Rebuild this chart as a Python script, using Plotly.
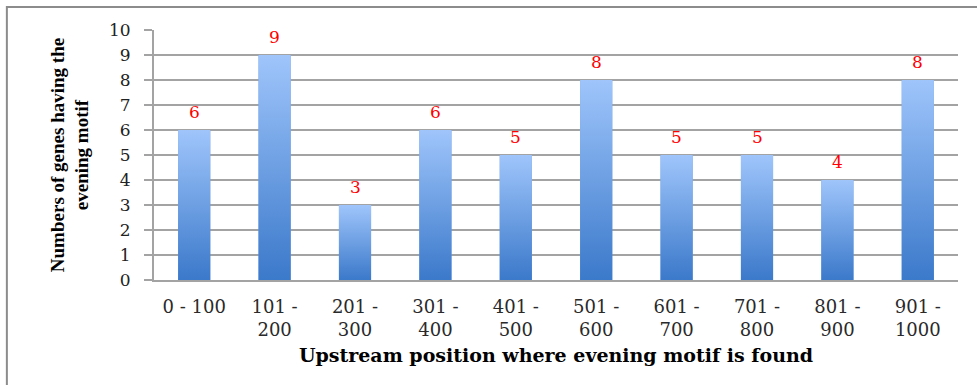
import plotly.graph_objects as go

categories = ["0 - 100", "101 -<br>200", "201 -<br>300", "301 -<br>400", "401 -<br>500",
              "501 -<br>600", "601 -<br>700", "701 -<br>800", "801 -<br>900", "901 -<br>1000"]
counts = [6, 9, 3, 6, 5, 8, 5, 5, 4, 8]
y_ticks = list(range(0, 11))

x_title = "Upstream position where evening motif is found"
y_title = "Numbers of genes having the<br>evening motif"

BAR_W = 0.4
TOP_COLOR = "#9fc5fb"
BOTTOM_COLOR = "#3b79ca"
GRID = "#a3a3a3"

positions = list(range(len(categories)))

fig = go.Figure()

# base bars
fig.add_trace(go.Bar(
    x=positions, y=counts, width=BAR_W,
    marker=dict(color="#6c9fe3", line=dict(width=0)),
    hoverinfo="y", showlegend=False,
))

# gradient overlay for each bar (same geometry as the bar)
for p, v in zip(positions, counts):
    x0, x1 = p - BAR_W / 2, p + BAR_W / 2
    fig.add_trace(go.Scatter(
        x=[x0, x0, x1, x1, x0], y=[0, v, v, 0, 0],
        mode="lines", line=dict(width=0), fill="toself",
        fillgradient=dict(type="vertical",
                          colorscale=[[0, BOTTOM_COLOR], [1, TOP_COLOR]],
                          start=0, stop=v),
        hoverinfo="skip", showlegend=False,
    ))

# value labels
for p, v in zip(positions, counts):
    fig.add_annotation(x=p, y=v, text=str(v), showarrow=False,
                       yanchor="bottom", yshift=6,
                       font=dict(family="DejaVu Serif", size=17, color="#ff0000"))

# outer frame
fig.add_shape(type="rect", xref="paper", yref="paper",
              x0=-0.183, x1=1.1, y0=-0.6, y1=1.092,
              line=dict(color="#8c8c8c", width=2), fillcolor="rgba(0,0,0,0)", layer="below")

fig.update_layout(
    width=977, height=385,
    margin=dict(l=154, r=19, t=30, b=105),
    paper_bgcolor="white", plot_bgcolor="white",
    bargap=0.6,
    xaxis=dict(
        range=[-0.5, len(categories) - 0.5],
        tickmode="array", tickvals=positions, ticktext=categories,
        showgrid=False, zeroline=False,
        showline=True, linecolor=GRID, linewidth=2,
        ticks="outside", ticklen=9, tickcolor="rgba(0,0,0,0)",
        tickfont=dict(family="DejaVu Serif", size=18, color="#2a2a2a"),
        title=dict(text=x_title, standoff=10,
                   font=dict(family="DejaVu Serif", size=19, color="#000000", weight="bold")),
    ),
    yaxis=dict(
        range=[0, 10], tickmode="array", tickvals=y_ticks,
        showgrid=True, gridcolor=GRID, gridwidth=2,
        zeroline=False,
        showline=True, linecolor=GRID, linewidth=2,
        ticks="outside", ticklen=8, tickcolor=GRID, tickwidth=2,
        ticklabelstandoff=10,
        tickfont=dict(family="DejaVu Serif", size=17, color="#222222"),
        title=dict(text=y_title, standoff=15,
                   font=dict(family="Liberation Serif", size=19, color="#000000", weight="bold")),
    ),
)

fig.write_html("out.html")
